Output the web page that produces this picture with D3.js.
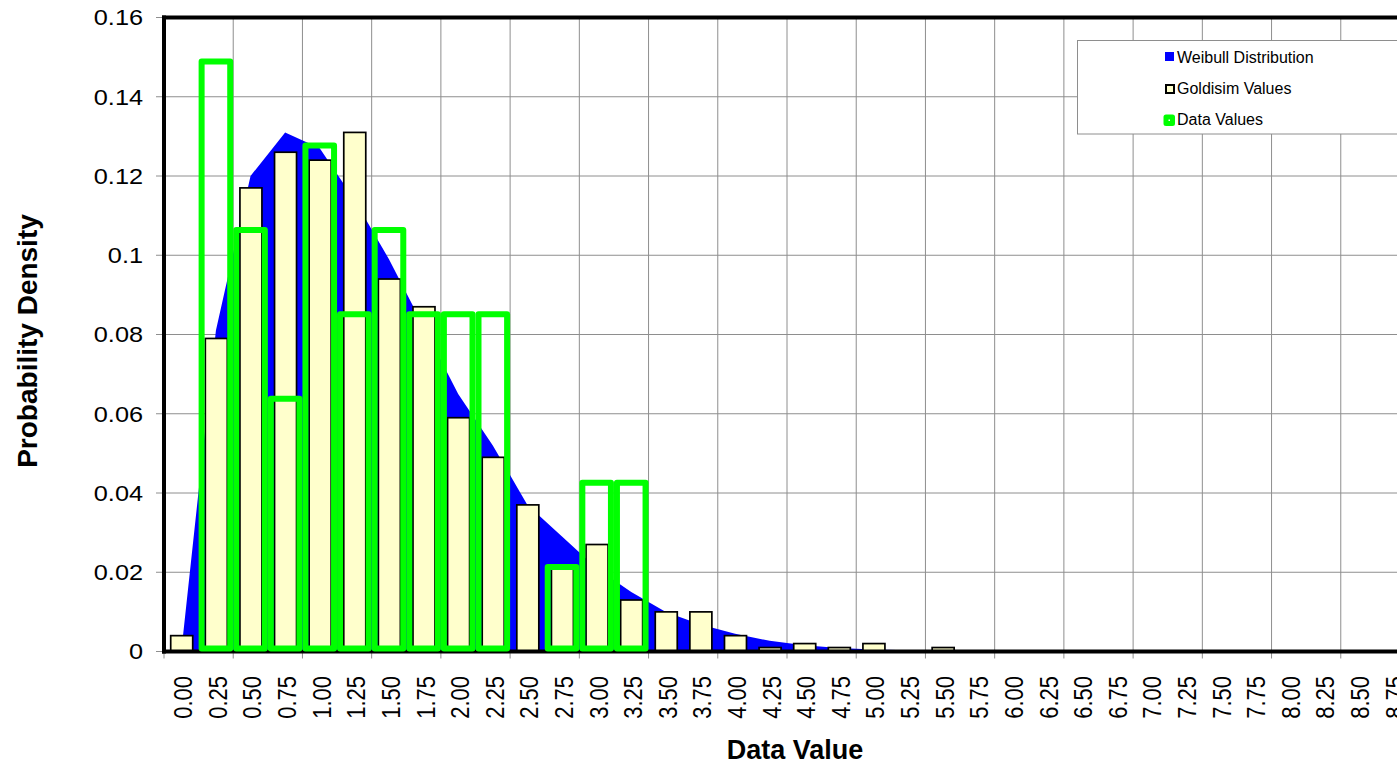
<!DOCTYPE html>
<html>
<head>
<meta charset="utf-8">
<script src="https://cdn.jsdelivr.net/npm/d3@7"></script>
<style>
  html, body { margin: 0; padding: 0; background: #fff; }
  svg { display: block; }
  text { font-family: "Liberation Sans", Arial, sans-serif; fill: #000; }
</style>
</head>
<body>
<svg id="chart" width="1397" height="768"></svg>
<script>
// ---- data ----
const categories = ["0.00","0.25","0.50","0.75","1.00","1.25","1.50","1.75","2.00","2.25",
  "2.50","2.75","3.00","3.25","3.50","3.75","4.00","4.25","4.50","4.75",
  "5.00","5.25","5.50","5.75","6.00","6.25","6.50","6.75","7.00","7.25",
  "7.50","7.75","8.00","8.25","8.50","8.75"];

const weibullValues = [0.000,0.081,0.120,0.131,0.127,0.114,0.099,0.082,0.065,0.052,
  0.037,0.029,0.021,0.015,0.010,0.0068,0.0045,0.0027,0.0016,0.0009,
  0.0005,0.0003,0.0002,0.0001,0,0,0,0,0,0,
  0,0,0,0,0,0];

const goldisimValues = [0.004,0.079,0.117,0.126,0.124,0.131,0.094,0.087,0.059,0.049,
  0.037,0.021,0.027,0.013,0.010,0.010,0.004,0.001,0.002,0.001,
  0.002,0,0.001,0,0,0,0,0,0,0,
  0,0,0,0,0,0];

const dataValues = [0,0.1489,0.1064,0.0638,0.1277,0.0851,0.1064,0.0851,0.0851,0.0851,
  0,0.0213,0.0426,0.0426,0,0,0,0,0,0,
  0,0,0,0,0,0,0,0,0,0,
  0,0,0,0,0,0];

const yTicks = [0, 0.02, 0.04, 0.06, 0.08, 0.1, 0.12, 0.14, 0.16];
const yTickLabels = ["0","0.02","0.04","0.06","0.08","0.1","0.12","0.14","0.16"];

const legendItems = ["Weibull Distribution", "Goldisim Values", "Data Values"];
const xTitle = "Data Value";
const yTitle = "Probability Density";

// ---- layout ----
const svg = d3.select("#chart");
const plot = { left: 164, right: 1410, top: 17.5, bottom: 651.5 };

const x = d3.scaleBand().domain(categories).range([plot.left, plot.right]).padding(0);
const y = d3.scaleLinear().domain([0, 0.16]).range([plot.bottom, plot.top]);
const bw = x.bandwidth();
const cx = c => x(c) + bw / 2;

// gridlines
const grid = svg.append("g");
grid.selectAll("line.h").data(yTicks.filter(v => v > 0 && v < 0.16)).enter()
  .append("line")
  .attr("x1", plot.left).attr("x2", plot.right)
  .attr("y1", d => y(d)).attr("y2", d => y(d))
  .attr("stroke", "#8e8e8e").attr("stroke-width", 1);

const vBounds = categories.filter((c, i) => i > 0 && i % 2 === 0);
grid.selectAll("line.v").data(vBounds).enter()
  .append("line")
  .attr("x1", d => x(d)).attr("x2", d => x(d))
  .attr("y1", plot.top).attr("y2", plot.bottom)
  .attr("stroke", "#8e8e8e").attr("stroke-width", 1);

// y ticks (outside left)
svg.append("g").selectAll("line").data(yTicks).enter()
  .append("line")
  .attr("x1", plot.left - 8).attr("x2", plot.left)
  .attr("y1", d => y(d)).attr("y2", d => y(d))
  .attr("stroke", "#8e8e8e").attr("stroke-width", 1);

// x ticks (every 2 categories, at band boundaries)
const xTickBounds = categories.filter((c, i) => i % 2 === 0);
svg.append("g").selectAll("line").data(xTickBounds).enter()
  .append("line")
  .attr("x1", d => x(d)).attr("x2", d => x(d))
  .attr("y1", plot.bottom).attr("y2", plot.bottom + 7)
  .attr("stroke", "#8e8e8e").attr("stroke-width", 1);

// Weibull area
const area = d3.area()
  .x((d, i) => cx(categories[i]))
  .y0(y(0))
  .y1(d => y(d));
svg.append("path")
  .datum(weibullValues)
  .attr("d", area)
  .attr("fill", "#0000ff")
  .attr("stroke", "none");

// Goldisim bars
const gw = 22;
svg.append("g").selectAll("rect")
  .data(categories.map((c, i) => ({ c, v: goldisimValues[i] })).filter(d => d.v > 0))
  .enter().append("rect")
  .attr("x", d => cx(d.c) - gw / 2 + 0.4)
  .attr("width", gw)
  .attr("y", d => y(d.v))
  .attr("height", d => y(0) - y(d.v))
  .attr("fill", "#ffffcc")
  .attr("stroke", "#000")
  .attr("stroke-width", 1.7);

// plot frame
const frame = svg.append("g").attr("stroke", "#000").attr("stroke-width", 4).attr("fill", "none");
frame.append("line").attr("x1", plot.left).attr("x2", plot.left).attr("y1", plot.top - 2).attr("y2", plot.bottom + 2);
frame.append("line").attr("x1", plot.left - 2).attr("x2", plot.right).attr("y1", plot.top).attr("y2", plot.top);
frame.append("line").attr("x1", plot.left - 2).attr("x2", plot.right).attr("y1", plot.bottom).attr("y2", plot.bottom);
frame.append("line").attr("x1", plot.right).attr("x2", plot.right).attr("y1", plot.top).attr("y2", plot.bottom);

// Data values (green outline columns)
const gs = 6;
svg.append("g").selectAll("rect")
  .data(categories.map((c, i) => ({ c, v: dataValues[i] })).filter(d => d.v > 0))
  .enter().append("rect")
  .attr("x", d => x(d.c) + gs / 2)
  .attr("width", bw - gs)
  .attr("y", d => y(d.v))
  .attr("height", d => y(0) - gs / 2 - y(d.v))
  .attr("fill", "none")
  .attr("stroke", "#00ff00")
  .attr("stroke-width", gs)
  .attr("stroke-linejoin", "round");

// y tick labels
svg.append("g").selectAll("text").data(yTicks).enter()
  .append("text")
  .attr("transform", d => `translate(143,${y(d)}) scale(1.15,1)`)
  .attr("dy", "0.36em")
  .attr("text-anchor", "end")
  .style("font-size", "22px")
  .text((d, i) => yTickLabels[i]);

// x tick labels (rotated)
svg.append("g").selectAll("text").data(categories).enter()
  .append("text")
  .attr("transform", d => `translate(${cx(d) + 1.8},676) scale(1.15,1) rotate(-90)`)
  .attr("dy", "0.36em")
  .attr("text-anchor", "end")
  .style("font-size", "22px")
  .text(d => d);

// axis titles
svg.append("text")
  .attr("x", 795).attr("y", 759)
  .attr("text-anchor", "middle")
  .style("font-size", "27px").style("font-weight", "bold")
  .text(xTitle);

svg.append("text")
  .attr("transform", "translate(37,341) rotate(-90)")
  .attr("text-anchor", "middle")
  .style("font-size", "28px").style("font-weight", "bold")
  .text(yTitle);

// legend
const lg = svg.append("g");
lg.append("rect")
  .attr("x", 1077.5).attr("y", 40.5).attr("width", 360).attr("height", 93.5)
  .attr("fill", "#fff").attr("stroke", "#8e8e8e").attr("stroke-width", 1);

lg.append("rect").attr("x", 1165).attr("y", 52).attr("width", 9).attr("height", 9)
  .attr("fill", "#0000ff");
lg.append("rect").attr("x", 1166).attr("y", 85).attr("width", 8).attr("height", 8)
  .attr("fill", "#ffffcc").attr("stroke", "#000").attr("stroke-width", 2);
lg.append("rect").attr("x", 1166).attr("y", 117).attr("width", 6.5).attr("height", 6.5)
  .attr("fill", "#fff").attr("stroke", "#00ff00").attr("stroke-width", 5).attr("stroke-linejoin", "round");

const legendBaselines = [62.7, 94.3, 125];
lg.selectAll("text.l").data(legendItems).enter()
  .append("text")
  .attr("x", 1177).attr("y", (d, i) => legendBaselines[i])
  .style("font-size", "16px")
  .text(d => d);
</script>
</body>
</html>
